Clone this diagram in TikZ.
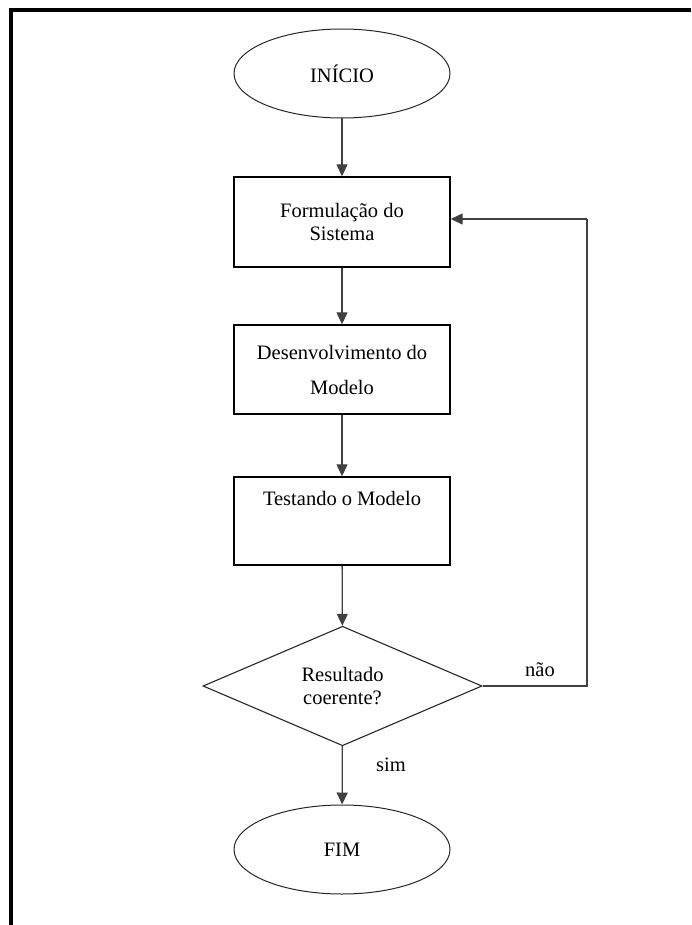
\documentclass[tikz,border=0pt]{standalone}
\usepackage{fontspec}
\setmainfont{Liberation Serif}
\usetikzlibrary{shapes.geometric,arrows.meta}
\begin{document}
\begin{tikzpicture}[x=1pt,y=-1pt,
  every node/.style={font=\fontsize{20.5}{23}\selectfont},
  term/.style={ellipse,draw=black!85,line width=1pt,minimum width=216pt,minimum height=89pt,inner sep=0pt},
  procbox/.style={rectangle,draw=black,line width=1.4pt,minimum width=216pt,inner sep=0pt,align=center},
  decision/.style={diamond,draw=black!85,line width=1.1pt,minimum width=279pt,minimum height=115pt,inner sep=0pt,align=center},
  conn/.style={draw=black!75,line width=1.3pt,-{Triangle[length=12pt,width=11pt]}},
  plainline/.style={draw=black!75,line width=1.3pt},
  lbl/.style={inner sep=0pt}]
\useasboundingbox (0,0) rectangle (691,925);
% outer frame
\draw[line width=4pt,black] (10.5,925) -- (10.5,10.5) -- (691,10.5);

\node[term] (ini) at (342,73.5) {INÍCIO};
\node[procbox,minimum height=90pt] (form) at (342,222) {Formulação do\\Sistema};
\node[procbox,minimum height=89pt] (dev) at (342,369.5) {Desenvolvimento do\\[12pt]Modelo};
\node[procbox,minimum height=88pt,label={[anchor=center,yshift=-22pt,font=\fontsize{20.5}{23}\selectfont]north:Testando o Modelo}] (test) at (342,521) {};
\node[decision] (dec) at (342.5,686) {Resultado\\coerente?};
\node[term] (fim) at (342,849.5) {FIM};

\coordinate (c2) at (587,219);
\coordinate (c1) at (dec.east -| c2);

\draw[conn] (ini) -- (form);
\draw[conn] (form) -- (dev);
\draw[conn] (dev) -- (test);
\draw[conn] (test) -- (dec);
\draw[conn] (dec) -- (fim);
\draw[plainline] (dec.east) -- (c1) -- (c2);
\draw[conn] (c2) -- (form.east |- c2);

\node[lbl] (nao) at (540,670) {não};
\node[lbl] (sim) at (391,765) {sim};
\end{tikzpicture}
\end{document}
